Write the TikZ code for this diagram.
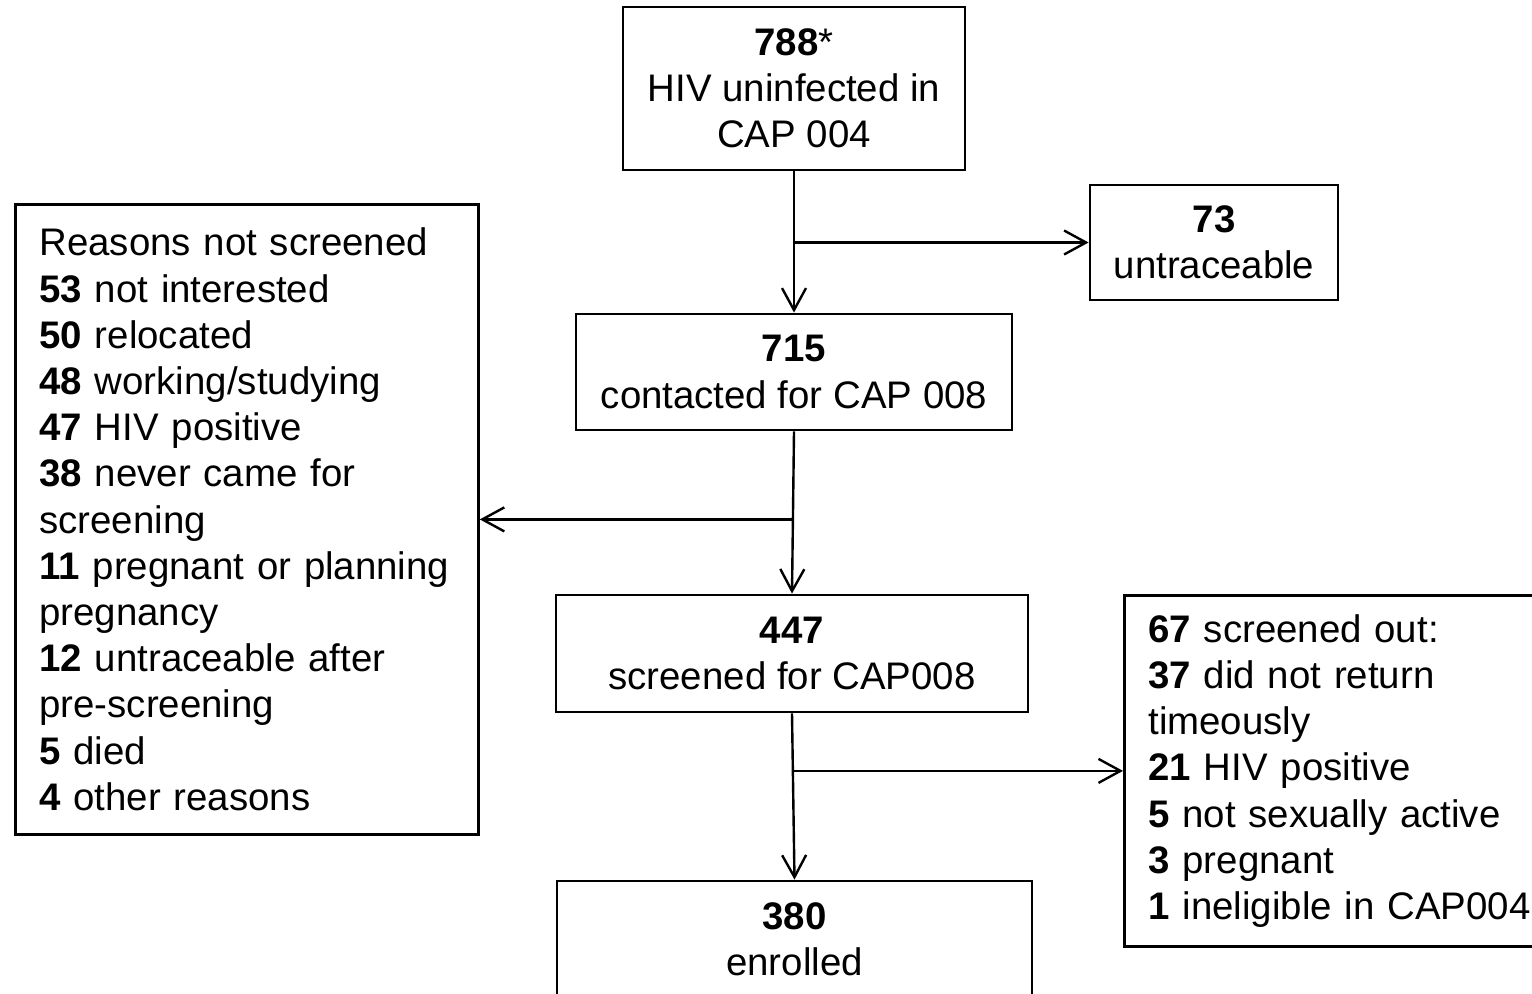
\documentclass[tikz,border=0pt]{standalone}
\usepackage{fontspec}
\setmainfont{Liberation Sans}
\usetikzlibrary{arrows.meta, positioning}

\begin{document}
\begin{tikzpicture}[
    x=0.5pt, y=-0.5pt,
    box/.style={draw, line width=1.4pt, inner sep=0pt, align=center, font=\fontsize{19.2}{23.1}\selectfont},
    listbox/.style={draw, line width=1.4pt, inner xsep=12pt, inner ysep=0pt, align=left, anchor=north west, font=\fontsize{19.2}{23.1}\selectfont},
    arr/.style={-{Straight Barb[length=11pt, width=12pt, line width=1.2pt]}, line width=1.2pt},
    ]
    \useasboundingbox (0,0) rectangle (1532,994);

    % main column
    \node[box, minimum width=171pt, minimum height=81.5pt] (n788) at (794,88.5) {\textbf{788}*\\HIV uninfected in\\CAP 004};
    \node[box, minimum width=218pt, minimum height=58pt] (n715) at (794,372) {\textbf{715}\\contacted for CAP 008};
    \node[box, minimum width=236pt, minimum height=58.5pt] (n447) at (792,653.5) {\textbf{447}\\screened for CAP008};
    \node[box, minimum width=237.5pt, minimum height=58pt] (n380) at (794.5,939) {\textbf{380}\\enrolled};

    % side boxes
    \node[box, minimum width=124pt, minimum height=57.5pt] (n73) at (1214,242.5) {\textbf{73}\\untraceable};
    \node[listbox, text width=207.5pt, minimum height=315pt] (reasons) at (14,203) {Reasons not screened\\
        \textbf{53} not interested\\
        \textbf{50} relocated\\
        \textbf{48} working/studying\\
        \textbf{47} HIV positive\\
        \textbf{38} never came for\\
        screening\\
        \textbf{11} pregnant or planning\\
        pregnancy\\
        \textbf{12} untraceable after\\
        pre-screening\\
        \textbf{5} died\\
        \textbf{4} other reasons};
    \node[listbox, text width=194pt, minimum height=175.5pt] (out67) at (1123,594) {\textbf{67} screened out:\\
        \textbf{37} did not return\\
        timeously\\
        \textbf{21} HIV positive\\
        \textbf{5} not sexually active\\
        \textbf{3} pregnant\\
        \textbf{1} ineligible in CAP004};

    % Arrows
    \draw[arr] (n788.south) -- (n715.north);
    \draw[arr] (n788.south |- n73.west) -- (n73.west);
    \draw[arr] (n715.south) -- (n447.north);
    \draw[arr] (n715.south |- reasons.east) -- (reasons.east);
    \draw[arr] (n447.south) -- (n380.north);
    \draw[arr] (n447.south |- out67.west) -- (out67.west);
\end{tikzpicture}
\end{document}
